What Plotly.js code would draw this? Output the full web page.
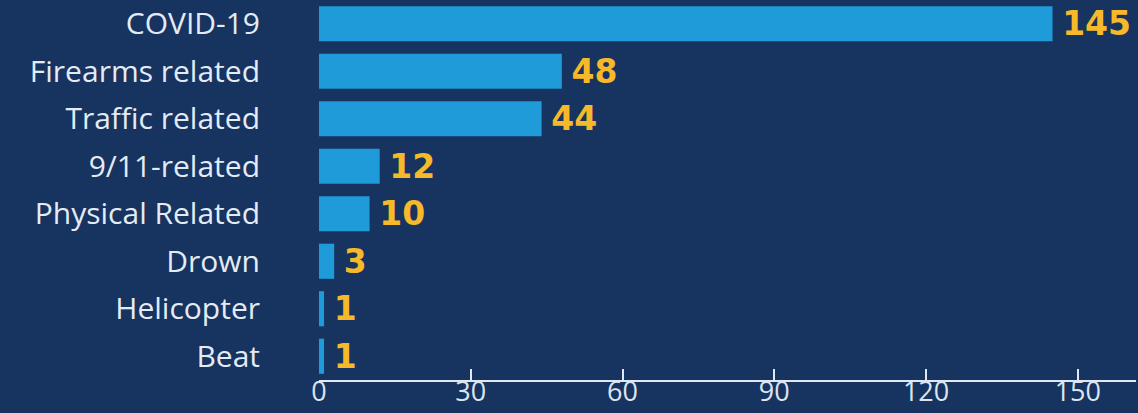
<!DOCTYPE html>
<html>
<head>
<meta charset="utf-8">
<script src="https://cdn.plot.ly/plotly-3.0.1.min.js"></script>
<style>
html,body{margin:0;padding:0;background:#17335f;}
#chart{width:1138px;height:413px;}
</style>
</head>
<body>
<div id="chart"></div>
<script>
const categories = ["COVID-19","Firearms related","Traffic related","9/11-related","Physical Related","Drown","Helicopter","Beat"];
const deaths = [145, 48, 44, 12, 10, 3, 1, 1];
const tickValues = [0, 30, 60, 90, 120, 150];

const trace = {
  type: 'bar',
  orientation: 'h',
  y: categories,
  x: deaths,
  width: 0.74,
  marker: {color: '#1e9bd8', line: {width: 0}},
  text: deaths.map(v => '\u2009' + v),
  textposition: 'outside',
  cliponaxis: false,
  constraintext: 'none',
  textfont: {family: 'DejaVu Sans', size: 33, color: '#f6b92a', weight: 'bold'},
  hoverinfo: 'skip'
};

const layout = {
  width: 1138, height: 413,
  margin: {l: 319, r: 2, t: 0, b: 33},
  paper_bgcolor: '#17335f',
  plot_bgcolor: '#17335f',
  showlegend: false,
  xaxis: {
    range: [0, 161.5],
    tickvals: tickValues,
    ticktext: tickValues.map(String),
    showgrid: false, zeroline: false,
    showline: true, linecolor: '#dfe8f3', linewidth: 2,
    ticks: 'inside', ticklen: 11, tickwidth: 2, tickcolor: '#dfe8f3',
    ticklabelstandoff: -13,
    tickfont: {family: 'Open Sans', size: 27, color: '#dbe5f0'},
    fixedrange: true
  },
  yaxis: {
    categoryorder: 'array', categoryarray: categories,
    autorange: 'reversed',
    showgrid: false, zeroline: false, showline: false,
    ticks: '',
    ticklabelstandoff: 58,
    tickfont: {family: 'Open Sans', size: 30, color: '#e3ebf5'},
    fixedrange: true
  }
};

Plotly.newPlot('chart', [trace], layout, {displayModeBar: false, staticPlot: true});
</script>
</body>
</html>
